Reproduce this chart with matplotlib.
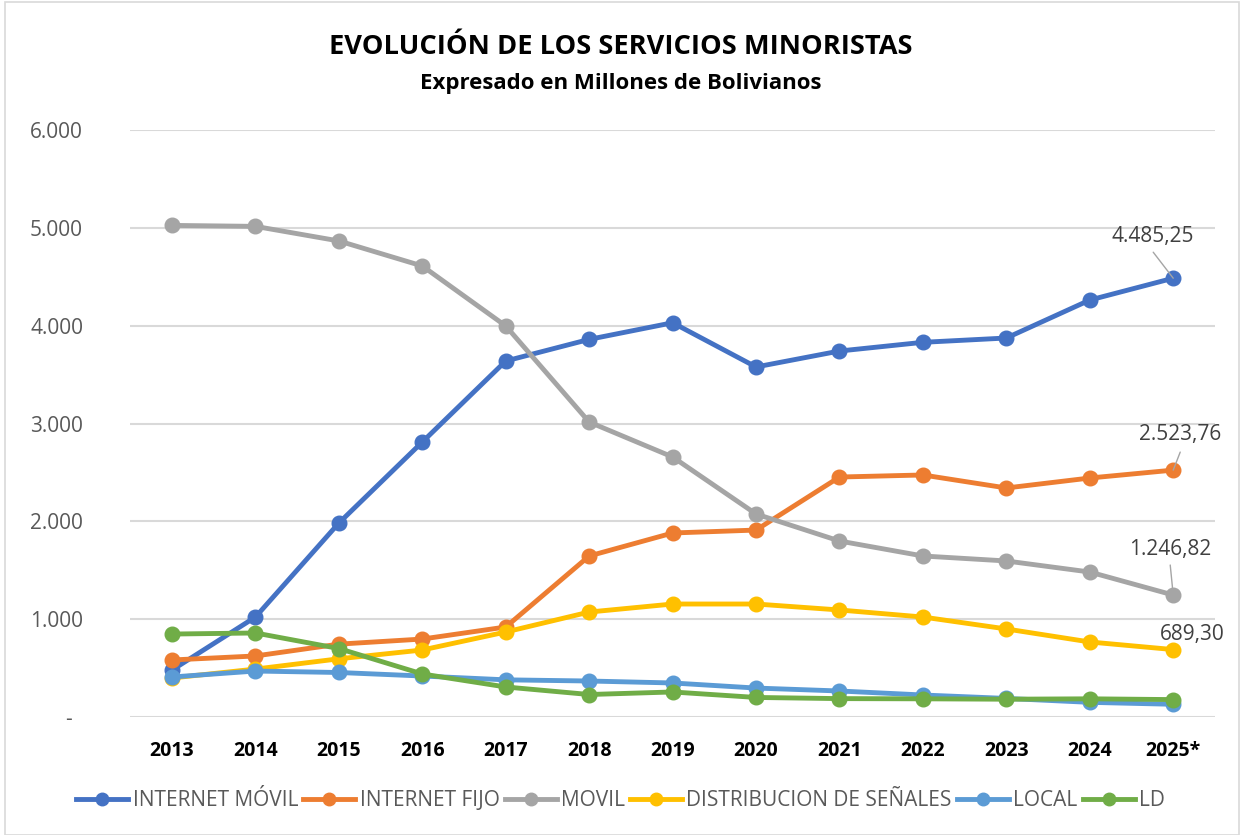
import matplotlib
matplotlib.use("Agg")
import matplotlib.pyplot as plt
from matplotlib.patches import Rectangle
from matplotlib.lines import Line2D

years = ["2013", "2014", "2015", "2016", "2017", "2018", "2019", "2020", "2021", "2022", "2023", "2024", "2025*"]

internet_movil = [480, 1022, 1983, 2811, 3639, 3860, 4030, 3578, 3741, 3830, 3874, 4262, 4485.25]
internet_fijo = [583, 624, 745, 797, 920, 1646, 1881, 1911, 2453, 2474, 2341, 2443, 2523.76]
movil = [5025, 5015, 4866, 4610, 3997, 3015, 2658, 2075, 1799, 1646, 1595, 1482, 1246.82]
distribucion = [399, 490, 595, 685, 869, 1073, 1155, 1155, 1094, 1022, 900, 767, 689.30]
local = [409, 470, 455, 419, 380, 368, 348, 296, 266, 225, 190, 150, 130]
ld = [848, 859, 700, 440, 307, 230, 256, 200, 188, 186, 182, 186, 178]

series_names = ["INTERNET MÓVIL", "INTERNET FIJO", "MOVIL", "DISTRIBUCION DE SEÑALES", "LOCAL", "LD"]
series_values = [internet_movil, internet_fijo, movil, distribucion, local, ld]
colors = ["#4472C4", "#ED7D31", "#A5A5A5", "#FFC000", "#5B9BD5", "#70AD47"]

yticks = [0, 1000, 2000, 3000, 4000, 5000, 6000]
ytick_labels = ["-  ", "1.000", "2.000", "3.000", "4.000", "5.000", "6.000"]

end_labels = ["4.485,25", "2.523,76", "1.246,82", "689,30"]

plt.rcParams['font.family'] = ['Open Sans', 'DejaVu Sans']

fig = plt.figure(figsize=(12.41, 8.35), dpi=100)
fig.patches.append(Rectangle((0.004, 0.0), 0.994, 0.998, transform=fig.transFigure,
                             fill=False, edgecolor="#D9D9D9", linewidth=1.2))
ax = fig.add_axes([0.105, 0.1413, 0.874, 0.703])

x = list(range(len(years)))
for i, (name, vals, c) in enumerate(zip(series_names, series_values, colors)):
    ax.plot(x, vals, color=c, linewidth=3.5, marker="o", markersize=10.5,
            label=name, zorder=3 + i, solid_capstyle="round")

ax.set_xlim(-0.5, len(years) - 0.5)
ax.set_ylim(0, 6000)
ax.set_yticks(yticks)
ax.set_yticklabels(ytick_labels, fontsize=15, color="#595959")
ax.set_xticks(x)
ax.set_xticklabels(years, fontsize=14, fontweight="bold", color="black")
ax.tick_params(axis="both", length=0)
ax.tick_params(axis="y", pad=34)
ax.tick_params(axis="x", pad=17)
ax.grid(axis="y", color="#D9D9D9", linewidth=1.5)
ax.set_axisbelow(True)
for s in ax.spines.values():
    s.set_visible(False)

# data labels on last point (offsets in pixels: text centre, leader start)
last = len(years) - 1
offsets = [
    ((-20, 42), (-20, 26)),
    ((7, 36), (7, 18)),
    ((-3, 46), (-3, 30)),
    ((19, 15), None),
]
for vals, txt, (toff, loff) in zip(series_values[:4], end_labels, offsets):
    pt = (last, vals[last])
    ax.annotate(txt, xy=pt, xytext=toff, textcoords="offset pixels",
                fontsize=15, color="#404040", ha="center", va="center", zorder=20,
                annotation_clip=False)
    if loff is not None:
        ax.annotate("", xy=pt, xytext=loff, textcoords="offset pixels",
                    arrowprops=dict(arrowstyle="-", color="#A5A5A5", lw=1.0,
                                    shrinkA=0, shrinkB=0), zorder=19)

fig.text(0.5, 0.944, "EVOLUCIÓN DE LOS SERVICIOS MINORISTAS", ha="center", va="center",
         fontsize=19.6, fontweight="bold", color="black")
fig.text(0.5, 0.900, "Expresado en Millones de Bolivianos", ha="center", va="center",
         fontsize=16, fontweight="bold", color="black")

handles = [Line2D([0], [0], color=c, linewidth=3.5, marker="o", markersize=9) for c in colors]
leg = fig.legend(handles, series_names, loc="center", bbox_to_anchor=(0.5, 0.041), ncol=6,
                 frameon=False, fontsize=15, handlelength=2.5, handletextpad=0.2,
                 columnspacing=0.25, labelcolor="#595959")

fig.savefig("out.png", dpi=100)
